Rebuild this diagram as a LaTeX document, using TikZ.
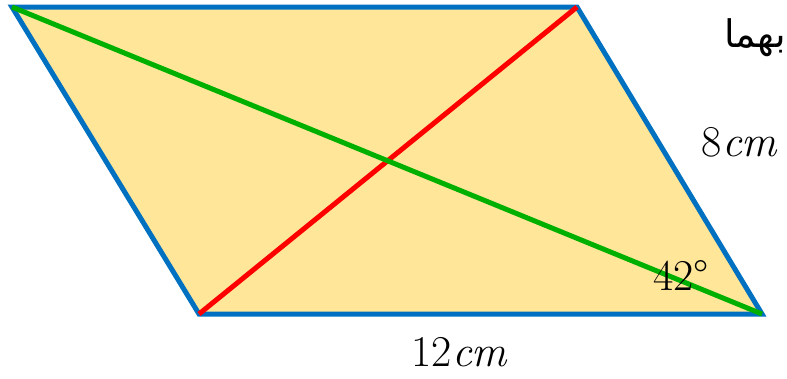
\documentclass[tikz,border=0pt]{standalone}
\usepackage{fontspec}
\setmainfont{Latin Modern Roman}
\newfontfamily\arabicfont[Script=Arabic]{DejaVu Sans}
\TeXXeTstate=1
\definecolor{fillc}{HTML}{FFE699}
\definecolor{bluec}{HTML}{0070C0}
\definecolor{redc}{HTML}{FF0000}
\definecolor{greenc}{HTML}{00B000}
\tikzset{
  edge/.style={draw=bluec, line width=5pt, line join=miter},
  diagred/.style={draw=redc, line width=5pt},
  diaggreen/.style={draw=greenc, line width=5pt},
  lbl/.style={inner sep=0pt, font=\fontsize{44}{48}\selectfont}
}
\begin{document}
\begin{tikzpicture}[x=1pt,y=-1pt]
\useasboundingbox (0,0) rectangle (787,378);
\coordinate (A) at (12,7);
\coordinate (B) at (577,7);
\coordinate (C) at (762,314);
\coordinate (D) at (199,314);
\fill[fillc] (A) -- (B) -- (C) -- (D) -- cycle;
\draw[edge] (A) -- (B) -- (C) -- (D) -- cycle;
\draw[diagred] (D) -- (B);
\draw[diaggreen] (A) -- (C);
\node[lbl] (l8) at (740,142) {8\textit{cm}};
\node[lbl] (l12) at (460,352) {12\textit{cm}};
\node[lbl] (l42) at (681,275) {42°};
\node[inner sep=0pt, anchor=base west, font=\fontsize{38}{42}\arabicfont] (ar) at (724,47) {\beginR بهما\endR};
\end{tikzpicture}
\end{document}
